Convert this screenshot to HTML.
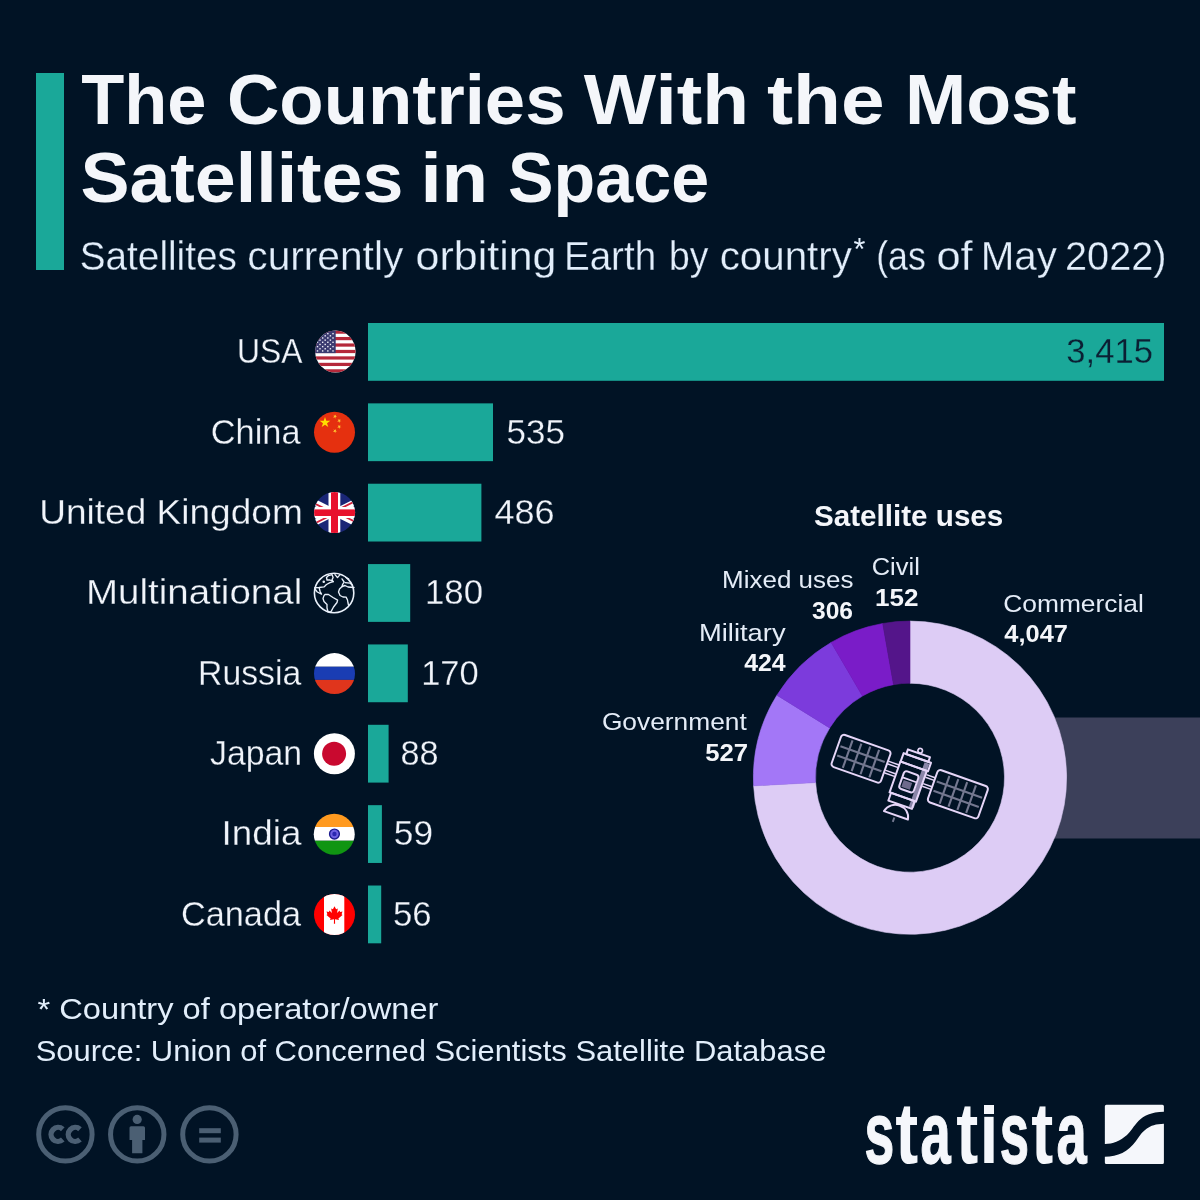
<!DOCTYPE html>
<html>
<head>
<meta charset="utf-8">
<title>The Countries With the Most Satellites in Space</title>
<style>
  html, body { margin: 0; padding: 0; background: #011325; }
  body { width: 1200px; height: 1200px; overflow: hidden; font-family: "Liberation Sans", sans-serif; }
  svg { display: block; will-change: transform; }
  text { font-family: "Liberation Sans", sans-serif; }
</style>
</head>
<body>
<svg width="1200" height="1200" viewBox="0 0 1200 1200">
<defs>
<clipPath id="c_usa"><ellipse cx="335.4" cy="351.5" rx="20.2" ry="21"/></clipPath>
<clipPath id="c_cn"><circle cx="334.5" cy="432.2" r="20.5"/></clipPath>
<clipPath id="c_uk"><circle cx="334.59999999999997" cy="512.5" r="20.5"/></clipPath>
<clipPath id="c_gl"><circle cx="334.09999999999997" cy="593.0" r="20.5"/></clipPath>
<clipPath id="c_ru"><circle cx="334.5" cy="673.6" r="20.5"/></clipPath>
<clipPath id="c_jp"><circle cx="334.4" cy="753.7" r="20.5"/></clipPath>
<clipPath id="c_in"><circle cx="334.25" cy="834.25" r="20.5"/></clipPath>
<clipPath id="c_ca"><circle cx="334.5" cy="914.5" r="20.5"/></clipPath>
</defs>
<rect x="0" y="0" width="1200" height="1200" fill="#011325"/>
<!-- accent bar -->
<rect x="36" y="73" width="28" height="197" fill="#1aa899"/>
<!-- bars -->
<g fill="#1aa899">
<rect x="368" y="323.0" width="796" height="57.8"/>
<rect x="368" y="403.36" width="125" height="57.8"/>
<rect x="368" y="483.72" width="113.4" height="57.8"/>
<rect x="368" y="564.08" width="42.2" height="57.8"/>
<rect x="368" y="644.44" width="39.8" height="57.8"/>
<rect x="368" y="724.8" width="20.6" height="57.8"/>
<rect x="368" y="805.16" width="13.9" height="57.8"/>
<rect x="368" y="885.52" width="13.2" height="57.8"/>
</g>
<!-- flags -->
<!-- usa -->
<g clip-path="url(#c_usa)">
<rect x="313.4" y="329.5" width="44" height="44" fill="#ffffff"/>
<rect x="313.4" y="330.50" width="44" height="3.23" fill="#b5283a"/>
<rect x="313.4" y="336.96" width="44" height="3.23" fill="#b5283a"/>
<rect x="313.4" y="343.42" width="44" height="3.23" fill="#b5283a"/>
<rect x="313.4" y="349.88" width="44" height="3.23" fill="#b5283a"/>
<rect x="313.4" y="356.35" width="44" height="3.23" fill="#b5283a"/>
<rect x="313.4" y="362.81" width="44" height="3.23" fill="#b5283a"/>
<rect x="313.4" y="369.27" width="44" height="3.23" fill="#b5283a"/>
<rect x="313.4" y="329.5" width="22.3" height="23.62" fill="#3b3b70"/>
<rect x="316.80" y="332.95" width="1.4" height="1.4" fill="#f2f2fa"/>
<rect x="321.97" y="332.95" width="1.4" height="1.4" fill="#f2f2fa"/>
<rect x="327.14" y="332.95" width="1.4" height="1.4" fill="#f2f2fa"/>
<rect x="332.31" y="332.95" width="1.4" height="1.4" fill="#f2f2fa"/>
<rect x="319.30" y="335.11" width="1.4" height="1.4" fill="#f2f2fa"/>
<rect x="324.50" y="335.11" width="1.4" height="1.4" fill="#f2f2fa"/>
<rect x="329.70" y="335.11" width="1.4" height="1.4" fill="#f2f2fa"/>
<rect x="316.80" y="337.27" width="1.4" height="1.4" fill="#f2f2fa"/>
<rect x="321.97" y="337.27" width="1.4" height="1.4" fill="#f2f2fa"/>
<rect x="327.14" y="337.27" width="1.4" height="1.4" fill="#f2f2fa"/>
<rect x="332.31" y="337.27" width="1.4" height="1.4" fill="#f2f2fa"/>
<rect x="319.30" y="339.43" width="1.4" height="1.4" fill="#f2f2fa"/>
<rect x="324.50" y="339.43" width="1.4" height="1.4" fill="#f2f2fa"/>
<rect x="329.70" y="339.43" width="1.4" height="1.4" fill="#f2f2fa"/>
<rect x="316.80" y="341.59" width="1.4" height="1.4" fill="#f2f2fa"/>
<rect x="321.97" y="341.59" width="1.4" height="1.4" fill="#f2f2fa"/>
<rect x="327.14" y="341.59" width="1.4" height="1.4" fill="#f2f2fa"/>
<rect x="332.31" y="341.59" width="1.4" height="1.4" fill="#f2f2fa"/>
<rect x="319.30" y="343.75" width="1.4" height="1.4" fill="#f2f2fa"/>
<rect x="324.50" y="343.75" width="1.4" height="1.4" fill="#f2f2fa"/>
<rect x="329.70" y="343.75" width="1.4" height="1.4" fill="#f2f2fa"/>
<rect x="316.80" y="345.91" width="1.4" height="1.4" fill="#f2f2fa"/>
<rect x="321.97" y="345.91" width="1.4" height="1.4" fill="#f2f2fa"/>
<rect x="327.14" y="345.91" width="1.4" height="1.4" fill="#f2f2fa"/>
<rect x="332.31" y="345.91" width="1.4" height="1.4" fill="#f2f2fa"/>
<rect x="319.30" y="348.07" width="1.4" height="1.4" fill="#f2f2fa"/>
<rect x="324.50" y="348.07" width="1.4" height="1.4" fill="#f2f2fa"/>
<rect x="329.70" y="348.07" width="1.4" height="1.4" fill="#f2f2fa"/>
<rect x="316.80" y="350.23" width="1.4" height="1.4" fill="#f2f2fa"/>
<rect x="321.97" y="350.23" width="1.4" height="1.4" fill="#f2f2fa"/>
<rect x="327.14" y="350.23" width="1.4" height="1.4" fill="#f2f2fa"/>
<rect x="332.31" y="350.23" width="1.4" height="1.4" fill="#f2f2fa"/>
</g>
<!-- cn -->
<circle cx="334.5" cy="432.2" r="20.5" fill="#e5300f"/>
<polygon points="325.00,416.90 326.26,420.77 330.33,420.77 327.03,423.16 328.29,427.03 325.00,424.64 321.71,427.03 322.97,423.16 319.67,420.77 323.74,420.77" fill="#ffde00"/>
<polygon points="336.10,414.59 335.77,416.16 337.15,416.96 335.56,417.12 335.23,418.69 334.58,417.23 332.99,417.39 334.18,416.33 333.53,414.87 334.91,415.66" fill="#ffc832"/>
<polygon points="340.35,418.84 340.02,420.41 341.40,421.21 339.81,421.37 339.48,422.94 338.83,421.48 337.24,421.64 338.43,420.58 337.78,419.12 339.16,419.91" fill="#ffc832"/>
<polygon points="340.35,424.84 340.02,426.41 341.40,427.21 339.81,427.37 339.48,428.94 338.83,427.48 337.24,427.64 338.43,426.58 337.78,425.12 339.16,425.91" fill="#ffc832"/>
<polygon points="336.10,429.09 335.77,430.66 337.15,431.46 335.56,431.62 335.23,433.19 334.58,431.73 332.99,431.89 334.18,430.83 333.53,429.37 334.91,430.16" fill="#ffc832"/>
<!-- uk -->
<g clip-path="url(#c_uk)">
<rect x="312.59999999999997" y="490.5" width="44" height="44" fill="#1a2676"/>
<line x1="292.59999999999997" y1="491.5" x2="376.59999999999997" y2="533.5" stroke="#ffffff" stroke-width="6.4"/>
<line x1="292.59999999999997" y1="533.5" x2="376.59999999999997" y2="491.5" stroke="#ffffff" stroke-width="6.4"/>
<line x1="292.59999999999997" y1="492.5" x2="334.59999999999997" y2="513.5" stroke="#d2203a" stroke-width="1.9"/>
<line x1="334.59999999999997" y1="511.5" x2="376.59999999999997" y2="490.5" stroke="#d2203a" stroke-width="1.9"/>
<line x1="334.59999999999997" y1="511.5" x2="376.59999999999997" y2="532.5" stroke="#d2203a" stroke-width="1.9"/>
<line x1="292.59999999999997" y1="534.5" x2="334.59999999999997" y2="513.5" stroke="#d2203a" stroke-width="1.9"/>
<rect x="328.49999999999994" y="490.5" width="11.8" height="44" fill="#ffffff"/>
<rect x="312.59999999999997" y="507.0" width="44" height="11" fill="#ffffff"/>
<rect x="330.99999999999994" y="490.5" width="7" height="44" fill="#e8112d"/>
<rect x="312.59999999999997" y="509.4" width="44" height="6.6" fill="#e8112d"/>
</g>
<!-- gl -->
<g fill="none" stroke="#e9f0fa" stroke-width="1.35" stroke-linejoin="round" stroke-linecap="round">
<circle cx="334.09999999999997" cy="593.0" r="19.7" stroke-width="1.6"/>
<path d="M314.75 587.75 L319.00 587.50 L324.00 586.90 L326.50 584.50 L330.00 582.60 L333.25 581.60"/>
<path d="M315.00 589.00 L317.25 592.00 L321.50 594.10 L320.00 591.25 L319.25 588.00"/>
<path d="M326.50 577.50 L328.50 575.60 L332.00 574.60 L333.10 577.50 L332.00 579.90 L333.25 581.60 L330.00 580.00 L327.00 580.00 Z"/>
<path d="M335.00 574.60 L337.50 577.60 L340.00 574.60"/>
<path d="M342.00 578.90 L344.10 582.00 L342.50 584.60 L342.10 586.50"/>
<path d="M345.75 577.25 L348.75 579.10"/>
<path d="M345.00 582.60 L350.00 583.10 L352.50 585.25"/>
<path d="M354.00 587.50 L348.00 587.00 L345.00 585.50 L342.10 586.50 L339.50 589.00 L338.50 592.00 L340.00 595.50 L343.00 597.00 L346.10 597.10 L347.50 600.00 L348.00 603.00 L348.60 605.25"/>
<path d="M325.00 594.50 L328.50 594.50 L333.00 597.50 L337.60 600.10 L337.00 602.50 L333.50 607.00 L331.00 611.60 L328.10 612.00 L327.00 608.00 L327.00 604.50 L324.00 601.50 L323.00 598.50 L324.00 595.60 Z"/>
<circle cx="323.75" cy="581.75" r="0.6" fill="#e9f0fa"/>
</g>
<!-- ru -->
<g clip-path="url(#c_ru)">
<rect x="312.5" y="651.6" width="44" height="15.15" fill="#ffffff"/>
<rect x="312.5" y="666.75" width="44" height="13.15" fill="#1a3db3"/>
<rect x="312.5" y="679.9" width="44" height="16" fill="#e0351c"/>
</g>
<!-- jp -->
<circle cx="334.4" cy="753.7" r="20.5" fill="#ffffff"/>
<circle cx="334.09999999999997" cy="753.7" r="12" fill="#c9092f"/>
<!-- in -->
<g clip-path="url(#c_in)">
<rect x="312.25" y="812.25" width="44" height="14.75" fill="#ff9a1f"/>
<rect x="312.25" y="827.0" width="44" height="13.75" fill="#ffffff"/>
<rect x="312.25" y="840.75" width="44" height="16" fill="#109512"/>
</g>
<circle cx="334.45" cy="834.05" r="4.9" fill="#6e60e0" stroke="#1b1a8e" stroke-width="1.4"/>
<circle cx="334.45" cy="834.05" r="2.2" fill="#2a27b0"/>
<!-- ca -->
<g clip-path="url(#c_ca)">
<rect x="312.5" y="892.5" width="44" height="44" fill="#ff0000"/>
<rect x="324.0" y="892.5" width="20.3" height="44" fill="#ffffff"/>
</g>
<path transform="translate(334.5,914.5)" d="M0,-8.3 L1.6,-5.2 L3.3,-6 L2.6,-1.6 L5,-3.9 L5.6,-2.4 L8,-2.9 L7.1,-0.2 L8,0.6 L3.9,4 L4.5,5.4 L0.5,4.8 L0.6,9.3 L-0.6,9.3 L-0.5,4.8 L-4.5,5.4 L-3.9,4 L-8,0.6 L-7.1,-0.2 L-8,-2.9 L-5.6,-2.4 L-5,-3.9 L-2.6,-1.6 L-3.3,-6 L-1.6,-5.2 Z" fill="#ff0000"/>
<!-- donut -->
<rect x="1012" y="717.5" width="188" height="121" fill="#3c405a"/>
<path d="M910.00 621.10 A156.6 156.6 0 1 1 753.61 785.81 L815.63 782.60 A94.5 94.5 0 1 0 910.00 683.20 Z" fill="#ddccf5" stroke="#ddccf5" stroke-width="0.6"/>
<path d="M753.61 785.81 A156.6 156.6 0 0 1 776.91 695.17 L829.69 727.90 A94.5 94.5 0 0 0 815.63 782.60 Z" fill="#a377f7" stroke="#a377f7" stroke-width="0.6"/>
<path d="M776.91 695.17 A156.6 156.6 0 0 1 831.18 642.38 L862.44 696.04 A94.5 94.5 0 0 0 829.69 727.90 Z" fill="#7c3bdc" stroke="#7c3bdc" stroke-width="0.6"/>
<path d="M831.18 642.38 A156.6 156.6 0 0 1 882.73 623.49 L893.54 684.64 A94.5 94.5 0 0 0 862.44 696.04 Z" fill="#7a1cc8" stroke="#7a1cc8" stroke-width="0.6"/>
<path d="M882.73 623.49 A156.6 156.6 0 0 1 910.00 621.10 L910.00 683.20 A94.5 94.5 0 0 0 893.54 684.64 Z" fill="#54158a" stroke="#54158a" stroke-width="0.6"/>
<!-- satellite -->
<g transform="translate(910,778.3) rotate(19.5)" fill="none" stroke="#e6d6f8" stroke-width="2" stroke-linejoin="round" stroke-linecap="round">
<line x1="-66.8" y1="-16.5" x2="-66.8" y2="12.7" stroke="#747890" stroke-width="2.1" stroke-linecap="butt"/>
<line x1="-57.4" y1="-16.5" x2="-57.4" y2="12.7" stroke="#747890" stroke-width="2.1" stroke-linecap="butt"/>
<line x1="-48.0" y1="-16.5" x2="-48.0" y2="12.7" stroke="#747890" stroke-width="2.1" stroke-linecap="butt"/>
<line x1="-38.6" y1="-16.5" x2="-38.6" y2="12.7" stroke="#747890" stroke-width="2.1" stroke-linecap="butt"/>
<line x1="-76.3" y1="-7.0" x2="-29.3" y2="-7.0" stroke="#747890" stroke-width="2.1" stroke-linecap="butt"/>
<line x1="-76.3" y1="2.8" x2="-29.3" y2="2.8" stroke="#747890" stroke-width="2.1" stroke-linecap="butt"/>
<rect x="-78.9" y="-19.1" width="52.4" height="34.0" rx="3.2"/>
<line x1="36.4" y1="-15.4" x2="36.4" y2="13.9" stroke="#747890" stroke-width="2.1" stroke-linecap="butt"/>
<line x1="45.8" y1="-15.4" x2="45.8" y2="13.9" stroke="#747890" stroke-width="2.1" stroke-linecap="butt"/>
<line x1="55.2" y1="-15.4" x2="55.2" y2="13.9" stroke="#747890" stroke-width="2.1" stroke-linecap="butt"/>
<line x1="64.5" y1="-15.4" x2="64.5" y2="13.9" stroke="#747890" stroke-width="2.1" stroke-linecap="butt"/>
<line x1="26.3" y1="-5.8" x2="74.4" y2="-5.8" stroke="#747890" stroke-width="2.1" stroke-linecap="butt"/>
<line x1="26.3" y1="4.0" x2="74.4" y2="4.0" stroke="#747890" stroke-width="2.1" stroke-linecap="butt"/>
<rect x="23.7" y="-18.0" width="53.5" height="34.1" rx="3.2"/>
<line x1="-25.5" y1="-8.9" x2="-15.4" y2="-8.9" stroke-width="1.5"/>
<line x1="-25.5" y1="-6.1" x2="-15.4" y2="-6.1" stroke-width="1.5"/>
<line x1="-25.5" y1="0.6" x2="-15.4" y2="0.6" stroke-width="1.5"/>
<line x1="-25.5" y1="3.4" x2="-15.4" y2="3.4" stroke-width="1.5"/>
<line x1="14.2" y1="-8.9" x2="22.7" y2="-8.9" stroke-width="1.5"/>
<line x1="14.2" y1="-6.1" x2="22.7" y2="-6.1" stroke-width="1.5"/>
<line x1="14.2" y1="0.6" x2="22.7" y2="0.6" stroke-width="1.5"/>
<line x1="14.2" y1="3.4" x2="22.7" y2="3.4" stroke-width="1.5"/>
<rect x="-14.4" y="-21.8" width="28.6" height="50" fill="#011325" stroke="none"/>
<rect x="8.4" y="-20" width="5" height="47" fill="#8a85a8" stroke="none"/>
<circle cx="0.4" cy="-29.4" r="2.3" stroke-width="1.7"/>
<rect x="-11.6" y="-26.6" width="23.4" height="5" fill="#011325"/>
<rect x="-14.4" y="-21.6" width="29" height="9"/>
<rect x="-14.6" y="-12.6" width="28" height="32.6"/>
<rect x="-13" y="20" width="25" height="8.2"/>
<rect x="-7.6" y="-5.6" width="15.4" height="18.6" rx="2.8" fill="#011325"/>
<line x1="-6.5" y1="1.6" x2="6.5" y2="1.6" stroke-width="1.7"/>
<rect x="-5.4" y="3.6" width="9" height="7.2" fill="#6e6a8c" stroke="none"/>
<path d="M-13.6 39.6 C-12 32.5,-6 29.2,-1 29.2 C5 29.2,10.5 32.5,11.8 39.6 Z" fill="#011325"/>
<line x1="-1.7" y1="42.2" x2="-1.7" y2="46.8" stroke="#747890" stroke-width="2" stroke-linecap="butt"/>
</g>
<!-- text -->
<g>
<text x="81.2" y="124" font-size="71" textLength="125.2" lengthAdjust="spacingAndGlyphs" font-weight="bold" fill="#f4f6fa">The</text>
<text x="226.9" y="124" font-size="71" textLength="338.7" lengthAdjust="spacingAndGlyphs" font-weight="bold" fill="#f4f6fa">Countries</text>
<text x="583.8" y="124" font-size="71" textLength="165.2" lengthAdjust="spacingAndGlyphs" font-weight="bold" fill="#f4f6fa">With</text>
<text x="766.9" y="124" font-size="71" textLength="117.6" lengthAdjust="spacingAndGlyphs" font-weight="bold" fill="#f4f6fa">the</text>
<text x="904.9" y="124" font-size="71" textLength="171.6" lengthAdjust="spacingAndGlyphs" font-weight="bold" fill="#f4f6fa">Most</text>
<text x="80.4" y="201.6" font-size="71" textLength="323.0" lengthAdjust="spacingAndGlyphs" font-weight="bold" fill="#f4f6fa">Satellites</text>
<text x="420.4" y="201.6" font-size="71" textLength="67.8" lengthAdjust="spacingAndGlyphs" font-weight="bold" fill="#f4f6fa">in</text>
<text x="508.1" y="201.6" font-size="71" textLength="201.0" lengthAdjust="spacingAndGlyphs" font-weight="bold" fill="#f4f6fa">Space</text>
<text x="79.8" y="269.6" font-size="40.7" textLength="157.0" lengthAdjust="spacingAndGlyphs" fill="#e2eefb" stroke="#011325" stroke-width="0.3">Satellites</text>
<text x="247.3" y="269.6" font-size="40.7" textLength="156.0" lengthAdjust="spacingAndGlyphs" fill="#e2eefb" stroke="#011325" stroke-width="0.3">currently</text>
<text x="415.6" y="269.6" font-size="40.7" textLength="140.9" lengthAdjust="spacingAndGlyphs" fill="#e2eefb" stroke="#011325" stroke-width="0.3">orbiting</text>
<text x="563.9" y="269.6" font-size="40.7" textLength="92.3" lengthAdjust="spacingAndGlyphs" fill="#e2eefb" stroke="#011325" stroke-width="0.3">Earth</text>
<text x="668.9" y="269.6" font-size="40.7" textLength="39.4" lengthAdjust="spacingAndGlyphs" fill="#e2eefb" stroke="#011325" stroke-width="0.3">by</text>
<text x="719.7" y="269.6" font-size="40.7" textLength="132.2" lengthAdjust="spacingAndGlyphs" fill="#e2eefb" stroke="#011325" stroke-width="0.3">country</text>
<text x="876.2" y="269.6" font-size="40.7" textLength="49.7" lengthAdjust="spacingAndGlyphs" fill="#e2eefb" stroke="#011325" stroke-width="0.3">(as</text>
<text x="936.4" y="269.6" font-size="40.7" textLength="36.2" lengthAdjust="spacingAndGlyphs" fill="#e2eefb" stroke="#011325" stroke-width="0.3">of</text>
<text x="980.8" y="269.6" font-size="40.7" textLength="76.1" lengthAdjust="spacingAndGlyphs" fill="#e2eefb" stroke="#011325" stroke-width="0.3">May</text>
<text x="1065.0" y="269.6" font-size="40.7" textLength="101.5" lengthAdjust="spacingAndGlyphs" fill="#e2eefb" stroke="#011325" stroke-width="0.3">2022)</text>
<text x="237.0" y="363.2" font-size="35.7" textLength="65.4" lengthAdjust="spacingAndGlyphs" fill="#f0f4fa" stroke="#011325" stroke-width="0.3">USA</text>
<text x="210.8" y="443.6" font-size="35.7" textLength="89.7" lengthAdjust="spacingAndGlyphs" fill="#f0f4fa" stroke="#011325" stroke-width="0.3">China</text>
<text x="39.2" y="523.9" font-size="35.7" textLength="263.6" lengthAdjust="spacingAndGlyphs" fill="#f0f4fa" stroke="#011325" stroke-width="0.3">United Kingdom</text>
<text x="86.0" y="604.3" font-size="35.7" textLength="216.2" lengthAdjust="spacingAndGlyphs" fill="#f0f4fa" stroke="#011325" stroke-width="0.3">Multinational</text>
<text x="198.0" y="684.6" font-size="35.7" textLength="103.2" lengthAdjust="spacingAndGlyphs" fill="#f0f4fa" stroke="#011325" stroke-width="0.3">Russia</text>
<text x="210.0" y="765.0" font-size="35.7" textLength="92.2" lengthAdjust="spacingAndGlyphs" fill="#f0f4fa" stroke="#011325" stroke-width="0.3">Japan</text>
<text x="221.6" y="845.4" font-size="35.7" textLength="79.8" lengthAdjust="spacingAndGlyphs" fill="#f0f4fa" stroke="#011325" stroke-width="0.3">India</text>
<text x="181.0" y="925.7" font-size="35.7" textLength="120.0" lengthAdjust="spacingAndGlyphs" fill="#f0f4fa" stroke="#011325" stroke-width="0.3">Canada</text>
<text x="1066.3" y="363.2" font-size="35.7" textLength="86.6" lengthAdjust="spacingAndGlyphs" fill="#0b1f33" stroke="#1aa899" stroke-width="0.3">3,415</text>
<text x="506.6" y="443.6" font-size="35.7" textLength="58.3" lengthAdjust="spacingAndGlyphs" fill="#f0f4fa" stroke="#011325" stroke-width="0.3">535</text>
<text x="494.4" y="523.9" font-size="35.7" textLength="60.2" lengthAdjust="spacingAndGlyphs" fill="#f0f4fa" stroke="#011325" stroke-width="0.3">486</text>
<text x="425.0" y="604.3" font-size="35.7" textLength="58.1" lengthAdjust="spacingAndGlyphs" fill="#f0f4fa" stroke="#011325" stroke-width="0.3">180</text>
<text x="421.2" y="684.6" font-size="35.7" textLength="57.5" lengthAdjust="spacingAndGlyphs" fill="#f0f4fa" stroke="#011325" stroke-width="0.3">170</text>
<text x="400.5" y="765.0" font-size="35.7" textLength="38.1" lengthAdjust="spacingAndGlyphs" fill="#f0f4fa" stroke="#011325" stroke-width="0.3">88</text>
<text x="393.8" y="845.4" font-size="35.7" textLength="39.2" lengthAdjust="spacingAndGlyphs" fill="#f0f4fa" stroke="#011325" stroke-width="0.3">59</text>
<text x="393.0" y="925.7" font-size="35.7" textLength="38.6" lengthAdjust="spacingAndGlyphs" fill="#f0f4fa" stroke="#011325" stroke-width="0.3">56</text>
<text x="37.5" y="1018.5" font-size="29.2" textLength="400.9" lengthAdjust="spacingAndGlyphs" fill="#e2eefb">* Country of operator/owner</text>
<text x="35.7" y="1061" font-size="29.2" textLength="790.7" lengthAdjust="spacingAndGlyphs" fill="#e2eefb">Source: Union of Concerned Scientists Satellite Database</text>
<text x="814.0" y="525.6" font-size="29.5" textLength="189.3" lengthAdjust="spacingAndGlyphs" font-weight="bold" fill="#f4f6fa">Satellite uses</text>
<text x="871.7" y="575" font-size="24.6" textLength="48.1" lengthAdjust="spacingAndGlyphs" fill="#e4ecf7">Civil</text>
<text x="874.9" y="606" font-size="24.6" textLength="43.5" lengthAdjust="spacingAndGlyphs" font-weight="bold" fill="#f4f6fa">152</text>
<text x="722.1" y="587.6" font-size="24.6" textLength="131.3" lengthAdjust="spacingAndGlyphs" fill="#e4ecf7">Mixed uses</text>
<text x="812.0" y="618.8" font-size="24.6" textLength="41.0" lengthAdjust="spacingAndGlyphs" font-weight="bold" fill="#f4f6fa">306</text>
<text x="699.0" y="640.8" font-size="24.6" textLength="86.6" lengthAdjust="spacingAndGlyphs" fill="#e4ecf7">Military</text>
<text x="744.2" y="671.4" font-size="24.6" textLength="41.5" lengthAdjust="spacingAndGlyphs" font-weight="bold" fill="#f4f6fa">424</text>
<text x="601.9" y="730" font-size="24.6" textLength="144.9" lengthAdjust="spacingAndGlyphs" fill="#e4ecf7">Government</text>
<text x="705.2" y="760.8" font-size="24.6" textLength="42.9" lengthAdjust="spacingAndGlyphs" font-weight="bold" fill="#f4f6fa">527</text>
<text x="1003.2" y="611.7" font-size="24.6" textLength="140.7" lengthAdjust="spacingAndGlyphs" fill="#e4ecf7">Commercial</text>
<text x="1004.3" y="641.7" font-size="24.6" textLength="63.6" lengthAdjust="spacingAndGlyphs" font-weight="bold" fill="#f4f6fa">4,047</text>
<text x="853.4" y="260.2" font-size="30.5" fill="#e2eefb">*</text>
</g>
<!-- cc icons -->
<g fill="none" stroke="#4b5f73" stroke-width="5">
<circle cx="65.4" cy="1134.4" r="26.7"/>
<circle cx="137.25" cy="1134.4" r="26.7"/>
<circle cx="209.4" cy="1134.4" r="26.7"/>
</g>
<g fill="none" stroke="#4b5f73" stroke-width="5.4" stroke-linecap="butt">
<path d="M62.78 1129.20 A7.0 7.0 0 1 0 62.78 1139.60"/>
<path d="M79.98 1129.20 A7.0 7.0 0 1 0 79.98 1139.60"/>
</g>
<g fill="#4b5f73">
<circle cx="137.2" cy="1119.4" r="4.6"/>
<path d="M129.5 1127.8 Q129.5 1126.2 131.1 1126.2 L143.4 1126.2 Q145 1126.2 145 1127.8 L145 1140 L142.4 1140 L142.4 1153.3 L132.1 1153.3 L132.1 1140 L129.5 1140 Z"/>
<rect x="199.2" y="1128.2" width="21.6" height="5"/>
<rect x="199.2" y="1137.6" width="21.6" height="5"/>
</g>
<!-- statista logo -->
<text x="864.4" y="1163.2" font-size="88" font-weight="bold" fill="#f5f7fb" stroke="#f5f7fb" stroke-width="1.3" textLength="29.8" lengthAdjust="spacingAndGlyphs">s</text>
<text x="895.2" y="1163.2" font-size="88" font-weight="bold" fill="#f5f7fb" textLength="23.0" lengthAdjust="spacingAndGlyphs">t</text>
<text x="920.4" y="1163.2" font-size="88" font-weight="bold" fill="#f5f7fb" stroke="#f5f7fb" stroke-width="1.3" textLength="30.2" lengthAdjust="spacingAndGlyphs">a</text>
<text x="956.2" y="1163.2" font-size="88" font-weight="bold" fill="#f5f7fb" textLength="22.0" lengthAdjust="spacingAndGlyphs">t</text>
<text x="979.4" y="1163.2" font-size="88" font-weight="bold" fill="#f5f7fb" textLength="18.8" lengthAdjust="spacingAndGlyphs">ı</text>
<text x="999.8" y="1163.2" font-size="88" font-weight="bold" fill="#f5f7fb" stroke="#f5f7fb" stroke-width="1.3" textLength="29.3" lengthAdjust="spacingAndGlyphs">s</text>
<text x="1031.2" y="1163.2" font-size="88" font-weight="bold" fill="#f5f7fb" textLength="22.0" lengthAdjust="spacingAndGlyphs">t</text>
<text x="1056.4" y="1163.2" font-size="88" font-weight="bold" fill="#f5f7fb" stroke="#f5f7fb" stroke-width="1.3" textLength="30.2" lengthAdjust="spacingAndGlyphs">a</text>
<rect x="984" y="1105" width="10" height="9" fill="#f5f7fb"/>
<path fill="#f5f7fb" d="M1106.35 1104.85 H1162.4 Q1163.9 1104.85 1163.9 1106.35 V1111.75 C1138 1112,1135 1128,1127 1135 C1120 1141,1113 1144,1104.85 1144 V1106.35 Q1104.85 1104.85 1106.35 1104.85 Z"/>
<path fill="#f5f7fb" d="M1104.85 1156.75 C1118 1156.5,1128 1152,1136 1141 C1143 1131,1148 1124,1163.9 1123.75 V1162.4 Q1163.9 1163.9 1162.4 1163.9 H1106.35 Q1104.85 1163.9 1104.85 1162.4 Z"/>
</svg>
</body>
</html>
